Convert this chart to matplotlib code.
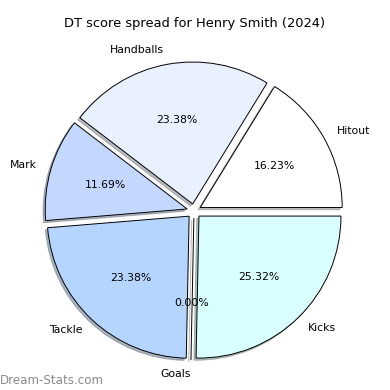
import matplotlib
matplotlib.use("Agg")
import matplotlib.pyplot as plt

# DT points per stat (Kicks x3, Handballs x2, Marks x3, Tackles x4, Hitouts x1, Goals)
labels = ["Kicks", "Goals", "Tackle", "Mark", "Handballs", "Hitout"]
points = [39, 0, 36, 18, 36, 25]
colors = ["#d9ffff", "#d0e4ff", "#b5d5ff", "#c4d8ff", "#e9f0ff", "#ffffff"]

fig = plt.figure(figsize=(3.9, 3.9), dpi=100)
ax = fig.add_axes([0, 0, 1, 1])

ax.pie(points, labels=labels, colors=colors, autopct="%1.2f%%",
       explode=[0.05] * len(points),
       shadow={"ox": -0.011, "oy": -0.011, "shade": 0.5},
       startangle=0, counterclock=False, textprops={"fontsize": 7.8},
       wedgeprops={"edgecolor": "black", "linewidth": 0.7})

# pie centre at about (194, 211) px, radius 142 px
ax.set_xlim(-194 / 142, (390 - 194) / 142)
ax.set_ylim(-(390 - 211) / 142, 211 / 142)
ax.set_aspect("auto")
ax.axis("off")

fig.text(0.5, 1 - 24 / 390, "DT score spread for Henry Smith (2024)",
         ha="center", va="center", fontsize=9.4)
fig.text(0.0, 1 - 380 / 390, "Dream-Stats.com", ha="left", va="center",
         fontsize=8.6, color="#8a8a8a")

fig.savefig("out.png", dpi=100)
